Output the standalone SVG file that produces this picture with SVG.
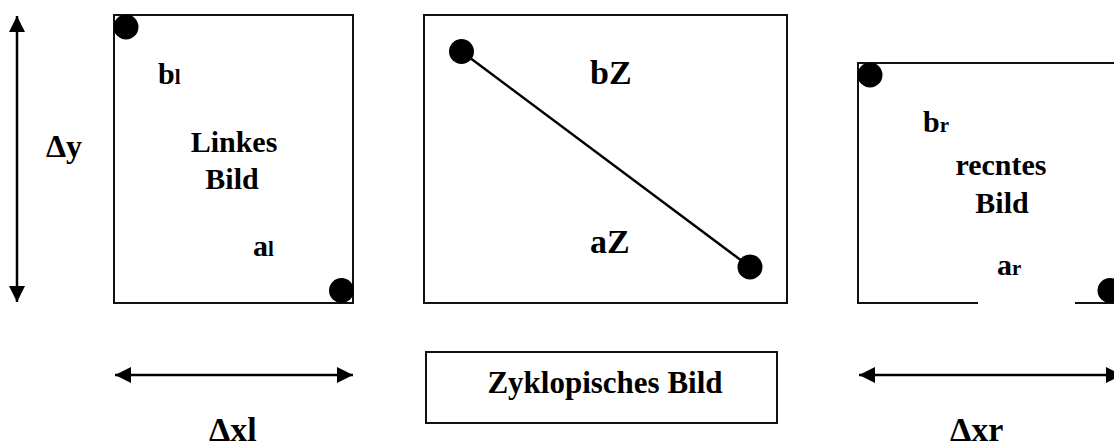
<svg xmlns="http://www.w3.org/2000/svg" width="1114" height="446" viewBox="0 0 1114 446">
  <defs>
    <style>
      .box { fill: #ffffff; stroke: #111111; stroke-width: 2; }
      .lbl { font-family: "Liberation Serif", "Times New Roman", serif; font-weight: bold; fill: #000000; font-size: 30px; }
      .sub { font-size: 21px; }
      .dot { fill: #000000; }
      .arr { stroke: #000000; stroke-width: 2.5; fill: none; marker-start: url(#ah); marker-end: url(#ah); }
    </style>
    <marker id="ah" markerUnits="userSpaceOnUse" markerWidth="16" markerHeight="16" refX="16" refY="8" orient="auto-start-reverse">
      <path d="M0,0 L16,8 L0,16 Z" fill="#000000"/>
    </marker>
  </defs>
  <rect width="1114" height="446" fill="#ffffff"/>

  <g id="linkes-bild">
    <rect class="box" x="114" y="15" width="239" height="288"/>
    <circle class="dot" cx="126" cy="27" r="12.5"/>
    <circle class="dot" cx="341.5" cy="290.5" r="12.5"/>
    <text class="lbl" x="158" y="84">b<tspan class="sub">l</tspan></text>
    <text class="lbl" x="234" y="152" text-anchor="middle">Linkes</text>
    <text class="lbl" x="232" y="189" text-anchor="middle">Bild</text>
    <text class="lbl" x="253" y="256">a<tspan class="sub">l</tspan></text>
  </g>

  <g id="zyklopisches-bild-oben">
    <rect class="box" x="424" y="15" width="363" height="288"/>
    <text class="lbl" x="590" y="84" style="font-size:34px">bZ</text>
    <text class="lbl" x="590" y="253" style="font-size:34px">aZ</text>
  </g>

  <g id="rechtes-bild">
    <rect class="box" x="858" y="63" width="270" height="240"/>
    <rect x="978" y="300" width="97" height="6" fill="#ffffff"/>
    <circle class="dot" cx="870" cy="75" r="12.5"/>
    <circle class="dot" cx="1110" cy="290.5" r="12.5"/>
    <text class="lbl" x="923" y="132">b<tspan class="sub">r</tspan></text>
    <text class="lbl" x="1001" y="175" text-anchor="middle">recntes</text>
    <text class="lbl" x="1002" y="213" text-anchor="middle">Bild</text>
    <text class="lbl" x="997" y="275">a<tspan class="sub">r</tspan></text>
  </g>

  <g id="zyklopisches-bild-label">
    <rect class="box" x="426" y="352" width="351" height="71"/>
    <text class="lbl" x="605" y="393" text-anchor="middle" style="font-size:31px">Zyklopisches Bild</text>
  </g>

  <g id="connectors">
    <line x1="461.5" y1="51.5" x2="750" y2="267" stroke="#000000" stroke-width="2.5"/>
    <circle class="dot" cx="461.5" cy="51.5" r="12.5"/>
    <circle class="dot" cx="750" cy="267" r="12.5"/>
    <line class="arr" x1="17" y1="16" x2="17" y2="302"/>
    <line class="arr" x1="115" y1="375" x2="353" y2="375"/>
    <line class="arr" x1="859" y1="375" x2="1122" y2="375"/>
  </g>

  <g id="dimension-labels">
    <text class="lbl" x="46" y="157" style="font-size:32px">Δy</text>
    <text class="lbl" x="209" y="441" style="font-size:34px">Δxl</text>
    <text class="lbl" x="950" y="441" style="font-size:34px">Δxr</text>
  </g>
</svg>
